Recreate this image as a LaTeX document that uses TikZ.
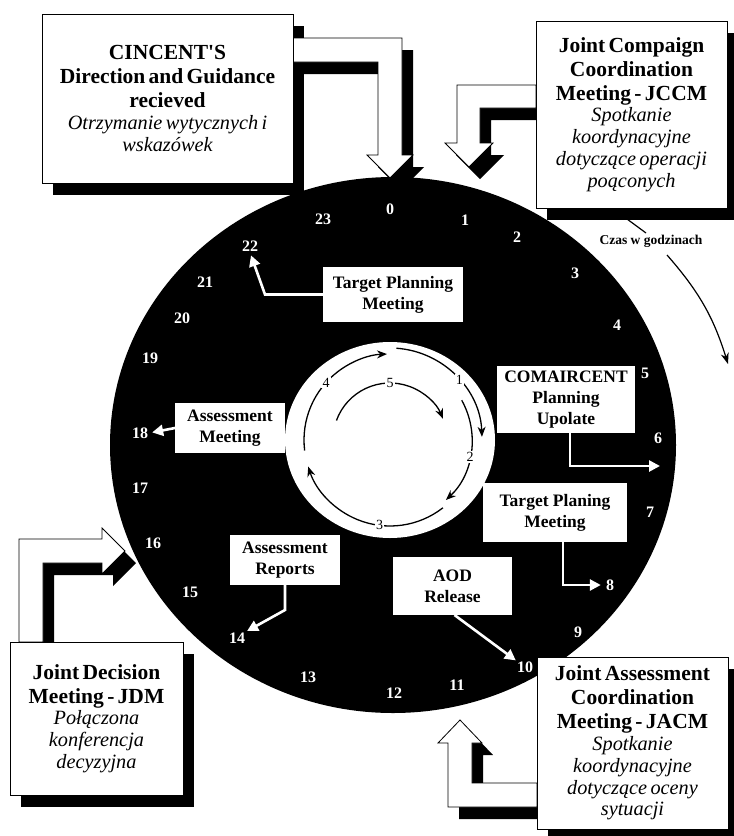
\documentclass[tikz,border=0pt]{standalone}
\usepackage{fontspec}
\setmainfont{Liberation Serif}
\usetikzlibrary{arrows.meta}
\newcommand{\ttlf}{\fontsize{21.5}{24}\selectfont\bfseries}
\newcommand{\itlf}{\fontsize{20.3}{21.8}\selectfont\itshape}
\newcommand{\ibf}{\fontsize{17.5}{21}\selectfont\bfseries}
\newcommand{\nbf}{\fontsize{16}{16}\selectfont\bfseries}
\newcommand{\shpA}{(293,38) -- (402,38) -- (402,155) -- (413,155) -- (390,178) -- (367,155) -- (378,155) -- (378,62) -- (293,62) -- cycle}
\newcommand{\shpB}{(536,85) -- (457,85) -- (457,143) -- (445,143) -- (469,167) -- (493,143) -- (480,143) -- (480,108) -- (536,108) -- cycle}
\newcommand{\shpC}{(19,642) -- (19,539) -- (102,539) -- (102,528) -- (125,551) -- (102,574) -- (102,563) -- (43,563) -- (43,642) -- cycle}
\newcommand{\shpD}{(537,807) -- (448,807) -- (448,743) -- (438,743) -- (460,720) -- (482,743) -- (472,743) -- (472,783) -- (537,783) -- cycle}
\begin{document}
\begin{tikzpicture}[x=1pt,y=-1pt,
  obox/.style={draw=black, fill=white, line width=0.8pt, inner sep=0pt, outer sep=0pt, align=center},
  ibox/.style={fill=white, inner sep=0pt, outer sep=0pt, align=center, font=\ibf},
  num/.style={text=white, font=\nbf, inner sep=1pt},
  inlab/.style={fill=white, inner sep=1.2pt, font=\fontsize{14}{14}\selectfont},
  wconn/.style={draw=white, line width=2.6pt, line join=miter, -{Triangle[length=11pt,width=11pt]}},
  inarc/.style={draw=black, line width=1.3pt, -{Stealth[length=10pt,width=8pt]}},
  shp/.style={fill=white, draw=black, line width=0.8pt, line join=miter}]
\useasboundingbox (0,0) rectangle (734,836);
\clip (0,0) rectangle (734,836);
\fill[white] (0,0) rectangle (734,836);
% clock disc and inner white circle
\fill[black] (393,445) ellipse [x radius=283, y radius=268];
\fill[white] (390,440) ellipse [x radius=105, y radius=98];
% shadows
\begin{scope}[shift={(11,12)}]
  \fill[black] (42,14) rectangle (293,183);
  \fill[black] (536,21) rectangle (727,208);
  \fill[black] (10,642) rectangle (183,795);
  \fill[black] (537,657) rectangle (728,829);
  \fill[black] \shpA;
  \fill[black] \shpB;
  \fill[black] \shpC;
  \fill[black] \shpD;
\end{scope}
% big white arrows
\filldraw[shp] \shpA;
\filldraw[shp] \shpB;
\filldraw[shp] \shpC;
\filldraw[shp] \shpD;
% outer boxes
\node[obox, text width=251pt, minimum height=169pt] (cin) at (167.5,98.5)
  {{\ttlf CINCENT\textquotesingle S\\Direction and Guidance\\recieved\par}{\itlf Otrzymanie wytycznych i\\wskazówek\par}};
\node[obox, text width=191pt, minimum height=187pt] (jccm) at (631.5,114.5)
  {{\ttlf Joint Compaign\\Coordination\\Meeting - JCCM\par}{\itlf Spotkanie\\koordynacyjne\\dotyczące operacji\\poąconych\par}};
\node[obox, text width=173pt, minimum height=153pt] (jdm) at (96.5,718.5)
  {{\ttlf Joint Decision\\Meeting - JDM\par}{\itlf Połączona\\konferencja\\decyzyjna\par}};
\node[obox, text width=191pt, minimum height=172pt] (jacm) at (632.5,743)
  {{\ttlf Joint Assessment\\Coordination\\Meeting - JACM\par}{\itlf Spotkanie\\koordynacyjne\\dotyczące oceny\\sytuacji\par}};
% hour numbers
\foreach \k/\px/\py in {0/390/209, 1/465/220, 2/517/237, 3/575/273, 4/617/325, 5/645/373,
  6/658/438, 7/650/512, 8/610/585, 9/578/632, 10/525/667, 11/457/685, 12/394/693,
  13/308/677, 14/237/638, 15/190/592, 16/153/543, 17/140/488, 18/140/433, 19/150/358,
  20/182/318, 21/205/282, 22/250/246, 23/323/219}
  \node[num] (n\k) at (\px,\py) {\k};
% inner labels
\node[ibox, minimum width=140pt, minimum height=55pt] (tpm) at (393,294.5) {Target Planning\\Meeting};
\node[ibox, minimum width=110pt, minimum height=50pt] (am) at (230,428) {Assessment\\Meeting};
\node[ibox, minimum width=138pt, minimum height=67pt] (comair) at (566,399.5) {COMAIRCENT\\Planning\\Upolate};
\node[ibox, minimum width=144pt, minimum height=59pt] (tpl) at (555,512.5) {Target Planing\\Meeting};
\node[ibox, minimum width=110pt, minimum height=50pt] (ar) at (285,560) {Assessment\\Reports};
\node[ibox, minimum width=119pt, minimum height=58pt] (aod) at (452.5,586) {AOD\\Release};
\coordinate (c6) at (660,466);
% white connectors
\draw[wconn, shorten >=3pt] (tpm.west) -- ++(-58,0) -- (n22.south);
\draw[wconn, shorten >=3pt] (am.west) -- (n18.east);
\draw[wconn] ([xshift=4pt]comair.south) |- (c6);
\draw[wconn, shorten >=4pt] ([xshift=8pt]tpl.south) |- (n8.west);
\draw[wconn, shorten >=1pt] (ar.south) -- ++(0,25) -- (n14.north east);
\draw[wconn] ([xshift=2pt]aod.south) -- (n10.north west);
% inner cycle arcs
\draw[inarc] ([shift={(390,440)}]173:86) arc[start angle=173, end angle=268, radius=86];
\draw[inarc] ([shift={(390,440)}]274:92) arc[start angle=274, end angle=358, radius=92];
\draw[inarc] ([shift={(390,440)}]331:82) arc[start angle=331, end angle=407, radius=82];
\draw[inarc] ([shift={(390,440)}]52:86) arc[start angle=52, end angle=162, radius=86];
\draw[inarc] ([shift={(390,440)}]200:57) arc[start angle=200, end angle=338, radius=57];
\node[inlab] (i4) at ([shift={(390,440)}]222:86) {4};
\node[inlab] (i1) at ([shift={(390,440)}]319:92) {1};
\node[inlab] (i2) at ([shift={(390,440)}]12:82) {2};
\node[inlab] (i3) at ([shift={(390,440)}]97:86) {3};
\node[inlab] (i5) at ([shift={(390,440)}]270:57) {5};
% time label
\coordinate (cz0) at (627,219);
\coordinate (cz1) at (646,233);
\coordinate (cz2) at (667,255);
\coordinate (cz3) at (728,364);
\draw[line width=1.2pt] (cz0) -- (cz1);
\draw[line width=1.2pt, -{Stealth[length=11pt,width=8pt]}] (cz2) to[bend left=12] (cz3);
\node[font=\fontsize{13.5}{14}\selectfont\bfseries, inner sep=1pt] (czas) at (651,241) {Czas w godzinach};
\end{tikzpicture}
\end{document}
